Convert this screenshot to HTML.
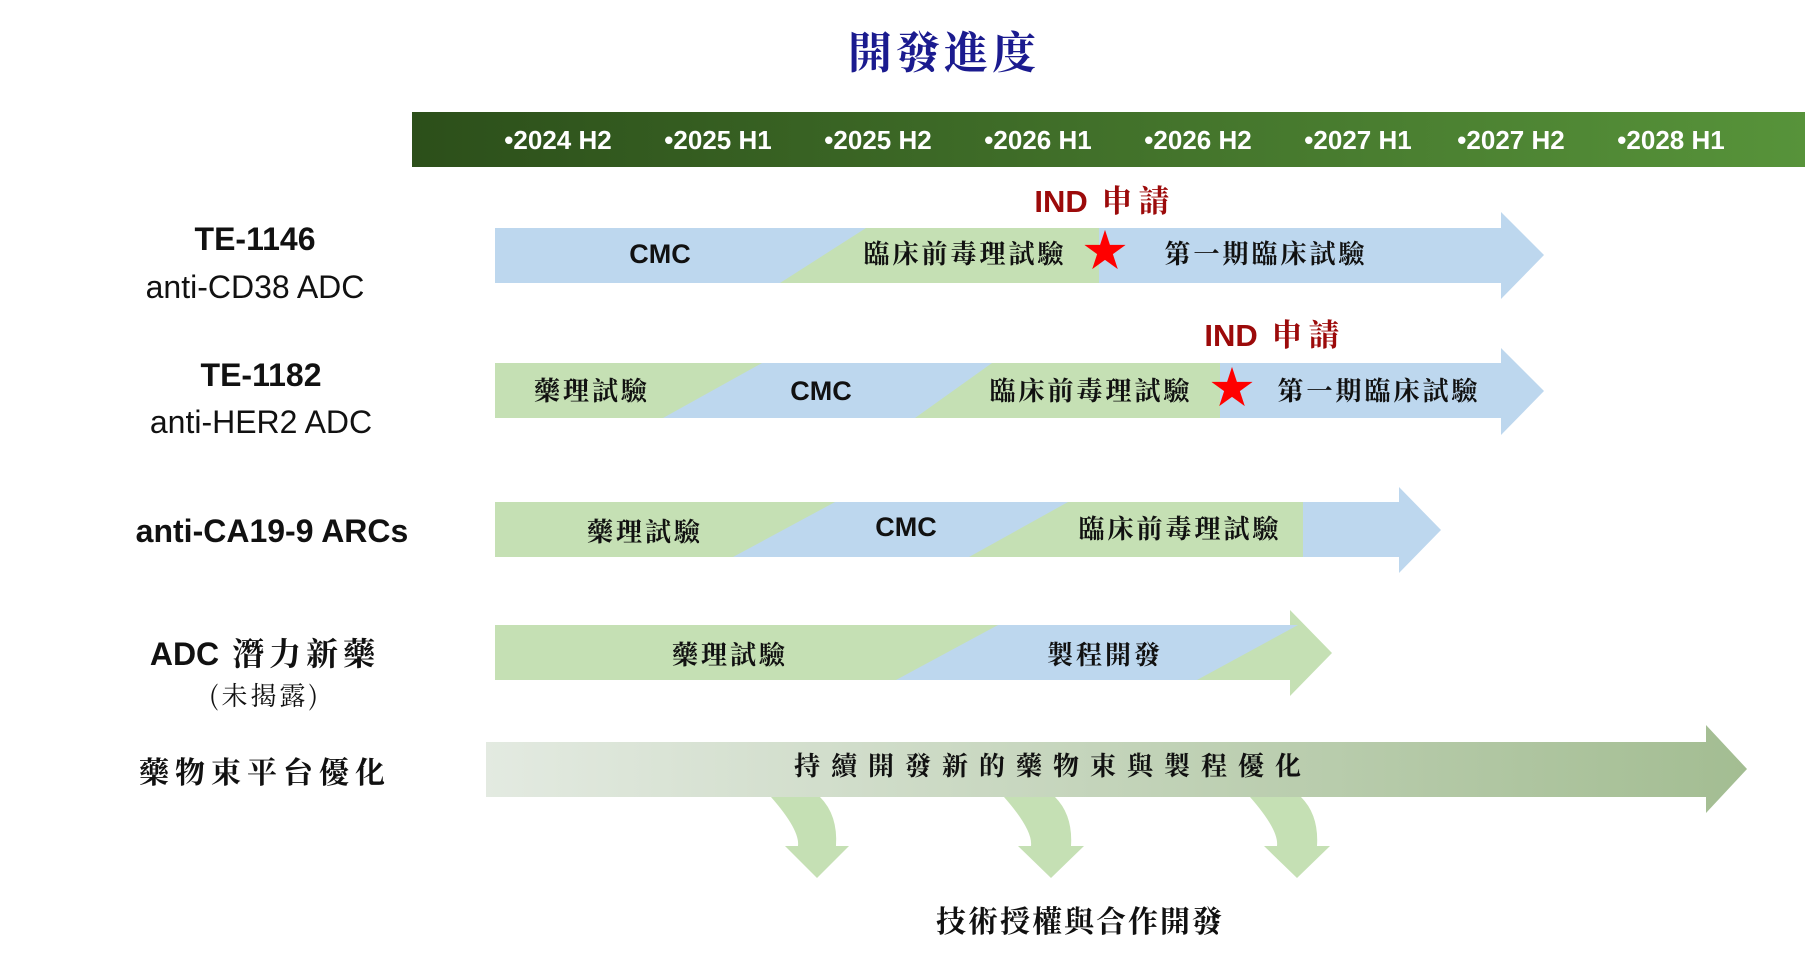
<!DOCTYPE html>
<html><head><meta charset="utf-8"><style>
html,body{margin:0;padding:0;background:#fff;}
svg{display:block;}
text{font-family:"Liberation Sans","Noto Sans CJK TC",sans-serif;}
.cj{font-family:"Noto Serif CJK SC","Noto Sans CJK TC",serif;font-weight:700;font-size:26px;letter-spacing:3px;fill:#111;}
.en{font-weight:700;font-size:27px;fill:#111;}
.yr{font-weight:700;font-size:26px;fill:#fff;}
.lb{font-size:32px;fill:#111;}
.lbb{font-size:32px;font-weight:700;fill:#111;}
.ind{font-weight:700;font-size:31px;fill:#9c0a0a;}
</style></head><body>
<svg width="1805" height="965" viewBox="0 0 1805 965" xmlns="http://www.w3.org/2000/svg">
<defs>
<linearGradient id="gb" x1="0" x2="1"><stop offset="0" stop-color="#2c4f1a"/><stop offset="1" stop-color="#57933a"/></linearGradient>
<linearGradient id="g5" x1="0" x2="1"><stop offset="0" stop-color="#e3eae1"/><stop offset="1" stop-color="#a3bd92"/></linearGradient>
</defs>
<text x="944" y="68" text-anchor="middle" style="font-family:'Noto Serif CJK SC',serif;font-weight:700;font-size:44px;fill:#1b1b8f;letter-spacing:4px">開發進度</text>
<rect x="412" y="112" width="1393" height="55" fill="url(#gb)"/>
<g text-anchor="middle">
<text x="558" y="149" class="yr">•2024 H2</text><text x="718" y="149" class="yr">•2025 H1</text>
<text x="878" y="149" class="yr">•2025 H2</text><text x="1038" y="149" class="yr">•2026 H1</text>
<text x="1198" y="149" class="yr">•2026 H2</text><text x="1358" y="149" class="yr">•2027 H1</text>
<text x="1511" y="149" class="yr">•2027 H2</text><text x="1671" y="149" class="yr">•2028 H1</text>
</g>
<polygon points="495,228 1501,228 1501,212 1544,255 1501,299 1501,283 495,283" fill="#bdd7ee"/>
<polygon points="866,228 1099,228 1099,283 780,283" fill="#c5e0b4"/>
<polygon points="495,363 1501,363 1501,348 1544,391 1501,435 1501,418 495,418" fill="#bdd7ee"/>
<polygon points="495,363 762,363 663,418 495,418" fill="#c5e0b4"/>
<polygon points="992,363 1220,363 1220,418 915,418" fill="#c5e0b4"/>
<polygon points="495,502 1399,502 1399,487 1441,530 1399,573 1399,557 495,557" fill="#bdd7ee"/>
<polygon points="495,502 835,502 733,557 495,557" fill="#c5e0b4"/>
<polygon points="1068,502 1303,502 1303,557 969,557" fill="#c5e0b4"/>
<polygon points="495,625 1290,625 1290,610 1332,653 1290,696 1290,680 495,680" fill="#c5e0b4"/>
<polygon points="998,625 1298,625 1197,680 896,680" fill="#bdd7ee"/>
<polygon points="486,742 1706,742 1706,725 1747,769 1706,813 1706,797 486,797" fill="url(#g5)"/>
<g fill="#c5e0b4">
<path d="M771,797 Q800,830 798,846 L785,846 L817,878 L849,846 L836,846 Q838,815 820,797 Z"/>
<path d="M1004,797 Q1033,830 1031,846 L1018,846 L1051,878 L1084,846 L1071,846 Q1073,815 1055,797 Z"/>
<path d="M1250,797 Q1279,830 1277,846 L1264,846 L1297,878 L1330,846 L1317,846 Q1319,815 1301,797 Z"/>
</g>
<text x="1105" y="266" text-anchor="middle" style="font-size:44px;fill:#f00">★</text>
<text x="1232" y="403" text-anchor="middle" style="font-size:44px;fill:#f00">★</text>
<text x="1105" y="212" text-anchor="middle" class="ind">IND<tspan style="font-family:'Noto Serif CJK SC',serif;letter-spacing:6px"> 申請</tspan></text>
<text x="1275" y="346" text-anchor="middle" class="ind">IND<tspan style="font-family:'Noto Serif CJK SC',serif;letter-spacing:6px"> 申請</tspan></text>
<g text-anchor="middle">
<text x="660" y="263" class="en">CMC</text>
<text x="965" y="263" class="cj">臨床前毒理試驗</text>
<text x="1266" y="263" class="cj">第一期臨床試驗</text>
<text x="592" y="400" class="cj">藥理試驗</text>
<text x="821" y="400" class="en">CMC</text>
<text x="1091" y="400" class="cj">臨床前毒理試驗</text>
<text x="1379" y="400" class="cj">第一期臨床試驗</text>
<text x="645" y="541" class="cj">藥理試驗</text>
<text x="906" y="536" class="en">CMC</text>
<text x="1180" y="538" class="cj">臨床前毒理試驗</text>
<text x="730" y="664" class="cj">藥理試驗</text>
<text x="1105" y="664" class="cj">製程開發</text>
<text x="1053" y="775" class="cj" style="letter-spacing:11px">持續開發新的藥物束與製程優化</text>
<text x="1080" y="932" class="cj" style="font-size:30px;letter-spacing:2px">技術授權與合作開發</text>
<text x="255" y="250" class="lbb">TE-1146</text>
<text x="255" y="298" class="lb">anti-CD38 ADC</text>
<text x="261" y="386" class="lbb">TE-1182</text>
<text x="261" y="433" class="lb">anti-HER2 ADC</text>
<text x="272" y="542" class="lbb">anti-CA19-9 ARCs</text>
<text x="265" y="665" class="lbb">ADC<tspan style="font-family:'Noto Serif CJK SC',serif;letter-spacing:5px"> 潛力新藥</tspan></text>
<text x="265" y="705" style="font-family:'Noto Serif CJK SC',serif;font-size:26px;letter-spacing:3px;fill:#111">(未揭露)</text>
<text x="265" y="783" class="cj" style="font-size:30px;letter-spacing:6px">藥物束平台優化</text>
</g>
</svg>
</body></html>
